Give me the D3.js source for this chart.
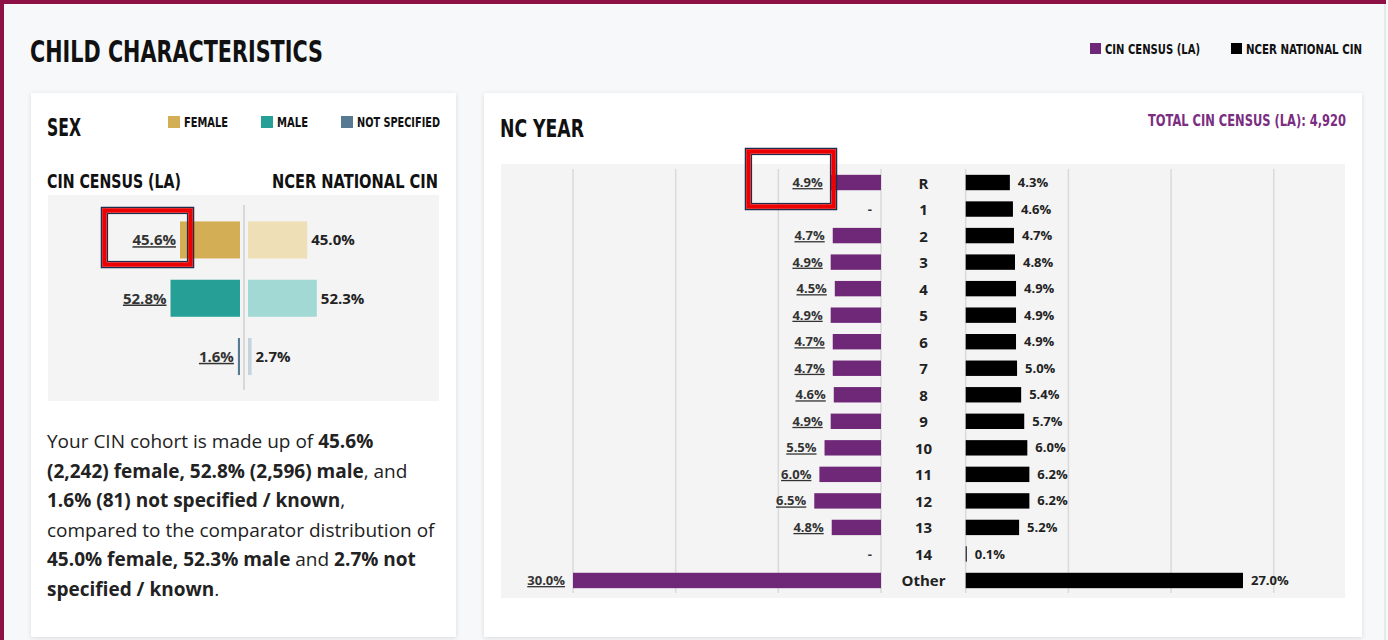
<!DOCTYPE html>
<html>
<head>
<meta charset="utf-8">
<script src="https://cdn.jsdelivr.net/npm/d3@7"></script>
<style>
  body { margin: 0; background: #f7f8fa; }
  svg { display: block; }
  .cond { font-family: 'DejaVu Sans Condensed', 'DejaVu Sans', sans-serif; font-stretch: condensed; font-weight: bold; }
  .open { font-family: 'Open Sans', sans-serif; }
</style>
</head>
<body>
<svg id="page" width="1388" height="640"></svg>
<script>
// sex panel data
const sexGroups = ["Female", "Male", "Not specified"];
const sexLA = [45.6, 52.8, 1.6];
const sexNCER = [45.0, 52.3, 2.7];
const sexColorsLA = ["#d4ae55", "#26a096", "#557a91"];
const sexColorsNCER = ["#efdfb6", "#a3d9d4", "#c5d3dc"];

// NC year panel data (null = no value, shown as "-")
const ncYears = ["R", "1", "2", "3", "4", "5", "6", "7", "8", "9", "10", "11", "12", "13", "14", "Other"];
const ncLA = [4.9, null, 4.7, 4.9, 4.5, 4.9, 4.7, 4.7, 4.6, 4.9, 5.5, 6.0, 6.5, 4.8, null, 30.0];
const ncNCER = [4.3, 4.6, 4.7, 4.8, 4.9, 4.9, 4.9, 5.0, 5.4, 5.7, 6.0, 6.2, 6.2, 5.2, 0.1, 27.0];
const gridTicks = [0, 10, 20, 30];

const purple = "#6f2878";
const fmt = d => d3.format(".1f")(d) + "%";

const svg = d3.select("#page");

// condensed heading text, squeezed to the width used in the original
function condText(parent, x, y, size, width, txt, anchor) {
  return parent.append("text").attr("class", "cond")
    .attr("x", x).attr("y", y)
    .attr("text-anchor", anchor || "start")
    .style("font-size", size + "px")
    .attr("textLength", width).attr("lengthAdjust", "spacingAndGlyphs")
    .attr("fill", "#111")
    .text(txt);
}

// defs: card shadow
const defs = svg.append("defs");
const shadow = defs.append("filter").attr("id", "shadow")
  .attr("x", "-5%").attr("y", "-5%").attr("width", "110%").attr("height", "110%");
shadow.append("feDropShadow")
  .attr("dx", 0).attr("dy", 1).attr("stdDeviation", 2)
  .attr("flood-color", "#000").attr("flood-opacity", 0.12);

// page frame
svg.append("rect").attr("x", 0).attr("y", 0).attr("width", 1388).attr("height", 640).attr("fill", "#f7f8fa");
svg.append("rect").attr("x", 0).attr("y", 0).attr("width", 1386).attr("height", 4).attr("fill", "#8e1146");
svg.append("rect").attr("x", 0).attr("y", 0).attr("width", 4).attr("height", 640).attr("fill", "#8e1146");
svg.append("rect").attr("x", 1384).attr("y", 4).attr("width", 2).attr("height", 636).attr("fill", "#e6e8ec");

condText(svg, 30, 62, 30, 293, "CHILD CHARACTERISTICS");

// top legend
const topLegend = [
  {label: "CIN CENSUS (LA)", color: purple, x: 1090, w: 95},
  {label: "NCER NATIONAL CIN", color: "#000", x: 1231, w: 116}
];
topLegend.forEach(d => {
  svg.append("rect").attr("x", d.x).attr("y", 43).attr("width", 11).attr("height", 11).attr("fill", d.color);
  condText(svg, d.x + 15, 53.5, 13.5, d.w, d.label);
});

// cards
svg.append("rect").attr("x", 31).attr("y", 93).attr("width", 425).attr("height", 544)
  .attr("fill", "#fff").attr("filter", "url(#shadow)");
svg.append("rect").attr("x", 484).attr("y", 93).attr("width", 878).attr("height", 544)
  .attr("fill", "#fff").attr("filter", "url(#shadow)");

// highlight box (navy / red / navy)
function highlight(x, y, w, h) {
  const g = svg.append("g");
  g.append("rect").attr("x", x + 0.5).attr("y", y + 0.5).attr("width", w - 1).attr("height", h - 1)
    .attr("fill", "none").attr("stroke", "#1f2d4d").attr("stroke-width", 1.5);
  g.append("rect").attr("x", x + 3.5).attr("y", y + 3.5).attr("width", w - 7).attr("height", h - 7)
    .attr("fill", "none").attr("stroke", "#ee0000").attr("stroke-width", 4.5);
  g.append("rect").attr("x", x + 6.5).attr("y", y + 6.5).attr("width", w - 13).attr("height", h - 13)
    .attr("fill", "none").attr("stroke", "#1f2d4d").attr("stroke-width", 1.2);
}

// ---------- SEX panel ----------
const sex = svg.append("g");
condText(sex, 47, 136, 24, 34, "SEX");

const sexLegend = [
  {label: "FEMALE", x: 168, w: 44},
  {label: "MALE", x: 261, w: 31},
  {label: "NOT SPECIFIED", x: 341, w: 83}
];
sexLegend.forEach((d, i) => {
  sex.append("rect").attr("x", d.x).attr("y", 116).attr("width", 12).attr("height", 12).attr("fill", sexColorsLA[i]);
  condText(sex, d.x + 16, 127, 13.5, d.w, d.label);
});

condText(sex, 47, 188, 20, 134, "CIN CENSUS (LA)");
condText(sex, 438, 188, 20, 166, "NCER NATIONAL CIN", "end");

sex.append("rect").attr("x", 48).attr("y", 195).attr("width", 391).attr("height", 206).attr("fill", "#f4f4f4");
sex.append("line").attr("x1", 244).attr("x2", 244).attr("y1", 205).attr("y2", 390)
  .attr("stroke", "#cfcfcf").attr("stroke-width", 1.5);

const sexY = d3.scaleBand().domain(sexGroups).range([210.8, 385.7]).paddingInner(0.365).paddingOuter(0.1825);
const sexXL = d3.scaleLinear().domain([0, 100]).range([240, 240 - 131.6]);
const sexXR = d3.scaleLinear().domain([0, 100]).range([248, 248 + 131.6]);

sex.append("g").selectAll("rect").data(sexGroups).join("rect")
  .attr("x", (d, i) => sexXL(sexLA[i]))
  .attr("y", d => sexY(d))
  .attr("width", (d, i) => sexXL(0) - sexXL(sexLA[i]))
  .attr("height", sexY.bandwidth())
  .attr("fill", (d, i) => sexColorsLA[i]);
sex.append("g").selectAll("rect").data(sexGroups).join("rect")
  .attr("x", sexXR(0))
  .attr("y", d => sexY(d))
  .attr("width", (d, i) => sexXR(sexNCER[i]) - sexXR(0))
  .attr("height", sexY.bandwidth())
  .attr("fill", (d, i) => sexColorsNCER[i]);

sex.append("g").selectAll("text").data(sexGroups).join("text")
  .attr("class", "open")
  .attr("x", (d, i) => sexXL(sexLA[i]) - 4)
  .attr("y", d => sexY(d) + sexY.bandwidth() / 2)
  .attr("dy", "0.35em").attr("text-anchor", "end")
  .style("font-size", "15px").style("font-weight", "700")
  .style("text-decoration", "underline").attr("fill", "#333")
  .text((d, i) => fmt(sexLA[i]));
sex.append("g").selectAll("text").data(sexGroups).join("text")
  .attr("class", "open")
  .attr("x", (d, i) => sexXR(sexNCER[i]) + 4)
  .attr("y", d => sexY(d) + sexY.bandwidth() / 2)
  .attr("dy", "0.35em")
  .style("font-size", "15px").style("font-weight", "700").attr("fill", "#222")
  .text((d, i) => fmt(sexNCER[i]));

highlight(101, 207, 93, 61);

// summary paragraph
const para = [
  [["Your CIN cohort is made up of ", 400], ["45.6%", 700]],
  [["(2,242) female, 52.8% (2,596) male", 700], [", and", 400]],
  [["1.6% (81) not specified / known", 700], [",", 400]],
  [["compared to the comparator distribution of", 400]],
  [["45.0% female, 52.3% male", 700], [" and ", 400], ["2.7% not", 700]],
  [["specified / known", 700], [".", 400]]
];
const pt = sex.append("text").attr("class", "open")
  .style("font-size", "19px").attr("fill", "#222");
para.forEach((line, li) => {
  line.forEach((seg, si) => {
    const ts = pt.append("tspan").style("font-weight", seg[1]).text(seg[0]);
    if (si === 0) ts.attr("x", 47).attr("y", 448 + li * 29.6);
  });
});

// ---------- NC YEAR panel ----------
const nc = svg.append("g");
condText(nc, 500, 137, 24, 84, "NC YEAR");
condText(nc, 1346, 126, 15, 198, "TOTAL CIN CENSUS (LA): 4,920", "end").attr("fill", "#7b2d82");

nc.append("rect").attr("x", 501).attr("y", 164).attr("width", 844).attr("height", 434).attr("fill", "#f4f4f4");

const ncY = d3.scaleBand().domain(ncYears).range([169.25, 593.75]).paddingInner(0.42).paddingOuter(0.21);
const ncXL = d3.scaleLinear().domain([0, 30]).range([881, 573]);
const ncXR = d3.scaleLinear().domain([0, 30]).range([965.7, 1273.8]);

nc.append("g").selectAll("line").data(gridTicks).join("line")
  .attr("x1", d => ncXL(d)).attr("x2", d => ncXL(d))
  .attr("y1", 169).attr("y2", 593)
  .attr("stroke", "#dadada").attr("stroke-width", 1.5);
nc.append("g").selectAll("line").data(gridTicks).join("line")
  .attr("x1", d => ncXR(d)).attr("x2", d => ncXR(d))
  .attr("y1", 169).attr("y2", 593)
  .attr("stroke", "#dadada").attr("stroke-width", 1.5);

nc.append("g").selectAll("rect").data(ncYears).join("rect")
  .filter((d, i) => ncLA[i] != null)
  .attr("x", d => ncXL(ncLA[ncYears.indexOf(d)]))
  .attr("y", d => ncY(d))
  .attr("width", d => ncXL(0) - ncXL(ncLA[ncYears.indexOf(d)]))
  .attr("height", ncY.bandwidth())
  .attr("fill", purple);
nc.append("g").selectAll("rect").data(ncYears).join("rect")
  .attr("x", ncXR(0))
  .attr("y", d => ncY(d))
  .attr("width", (d, i) => Math.max(1, ncXR(ncNCER[i]) - ncXR(0)))
  .attr("height", ncY.bandwidth())
  .attr("fill", "#000");

// category labels
nc.append("g").selectAll("text").data(ncYears).join("text")
  .attr("class", "open")
  .attr("x", 923.5).attr("y", d => ncY(d) + ncY.bandwidth() / 2)
  .attr("dy", "0.4em").attr("text-anchor", "middle")
  .style("font-size", "15px").style("font-weight", "700").attr("fill", "#222")
  .text(d => d);

// value labels
nc.append("g").selectAll("text").data(ncYears).join("text")
  .attr("class", "open")
  .attr("x", (d, i) => ncLA[i] == null ? ncXL(0) - 9 : ncXL(ncLA[i]) - 8)
  .attr("y", d => ncY(d) + ncY.bandwidth() / 2)
  .attr("dy", "0.35em").attr("text-anchor", "end")
  .style("font-size", "13px").style("font-weight", "700")
  .style("text-decoration", (d, i) => ncLA[i] == null ? "none" : "underline")
  .attr("fill", "#333")
  .text((d, i) => ncLA[i] == null ? "-" : fmt(ncLA[i]));
nc.append("g").selectAll("text").data(ncYears).join("text")
  .attr("class", "open")
  .attr("x", (d, i) => ncXR(ncNCER[i]) + 8)
  .attr("y", d => ncY(d) + ncY.bandwidth() / 2)
  .attr("dy", "0.35em")
  .style("font-size", "13px").style("font-weight", "700").attr("fill", "#222")
  .text((d, i) => fmt(ncNCER[i]));

highlight(745, 148, 92, 62);
</script>
</body>
</html>
